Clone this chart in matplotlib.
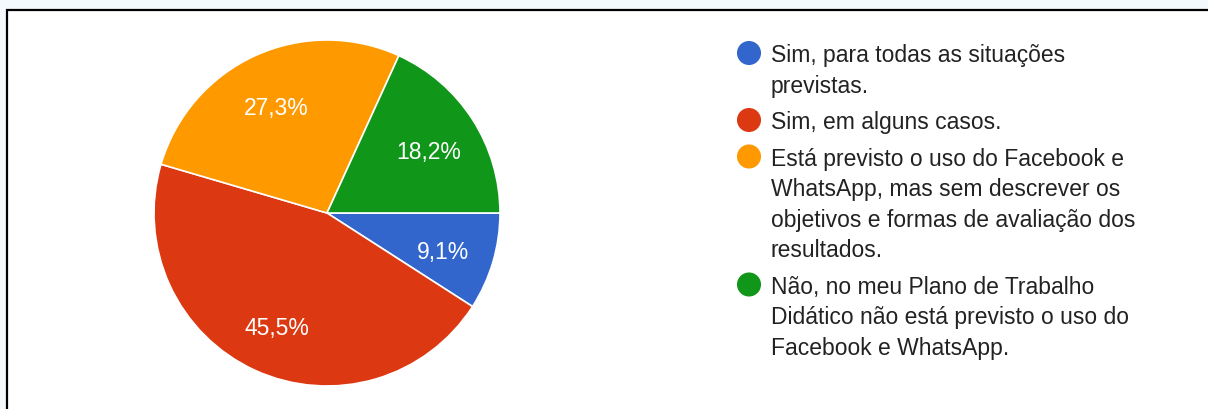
import matplotlib
matplotlib.use("Agg")
import matplotlib.pyplot as plt
import numpy as np

# Survey answers (percent of respondents)
categories = [
    "Sim, para todas as situações\nprevistas.",
    "Sim, em alguns casos.",
    "Está previsto o uso do Facebook e\nWhatsApp, mas sem descrever os\nobjetivos e formas de avaliação dos\nresultados.",
    "Não, no meu Plano de Trabalho\nDidático não está previsto o uso do\nFacebook e WhatsApp.",
]
percentages = [9.1, 45.5, 27.3, 18.2]
colors = ["#3366cc", "#dc3912", "#ff9900", "#109618"]

plt.rcParams["font.family"] = ["Liberation Sans", "DejaVu Sans"]

W, H = 1208, 410
fig = plt.figure(figsize=(W / 100, H / 100), dpi=100)
fig.patch.set_facecolor("#f4f9fd")

# Full-figure canvas in pixel units for the frame and the legend
canvas = fig.add_axes([0, 0, 1, 1])
canvas.set_xlim(0, W)
canvas.set_ylim(H, 0)
canvas.axis("off")
canvas.add_patch(plt.Rectangle((7, 11), W, H, facecolor="white", edgecolor="none"))
canvas.plot([6, W], [11, 11], color="black", lw=1.6, solid_capstyle="butt")
canvas.plot([7, 7], [10, H], color="black", lw=1.6, solid_capstyle="butt")

# Pie
cx, cy, r = 327, 214, 173
pie_ax = fig.add_axes([(cx - r) / W, (H - cy - r) / H, 2 * r / W, 2 * r / H])
wedges, _ = pie_ax.pie(
    percentages,
    colors=colors,
    startangle=0,
    counterclock=False,
    radius=1.0,
    wedgeprops=dict(edgecolor="white", linewidth=1.2),
)
pie_ax.set_xlim(-1.0, 1.0)
pie_ax.set_ylim(-1.0, 1.0)
pie_ax.set_aspect("equal")
pie_ax.axis("off")

for w, p in zip(wedges, percentages):
    ang = np.deg2rad((w.theta1 + w.theta2) / 2)
    d = 0.70
    pie_ax.text(d * np.cos(ang), d * np.sin(ang) - 0.025, f"{p:.1f}%".replace(".", ","),
                ha="center", va="center", color="white", fontsize=16.5)

# Legend
dot_x, text_x = 749, 771
line_h, item_gap = 30.5, 36.5
y = 54
for label, col in zip(categories, colors):
    canvas.scatter([dot_x], [y], s=300, color=col, edgecolors="none", zorder=3)
    lines = label.split("\n")
    for i, line in enumerate(lines):
        canvas.text(text_x, y + 8.3, line, ha="left", va="baseline",
                    fontsize=16.5, color="#222222")
        if i < len(lines) - 1:
            y += line_h
    y += item_gap

fig.savefig("out.png", dpi=100, facecolor=fig.get_facecolor())
